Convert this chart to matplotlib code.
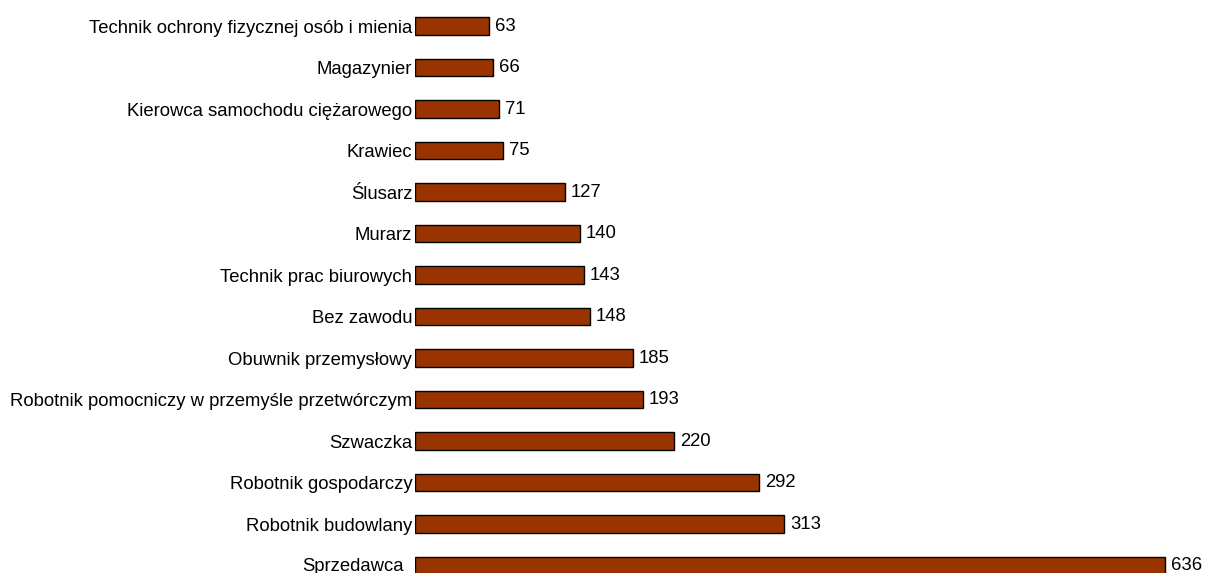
import matplotlib.pyplot as plt
import matplotlib.transforms as mtransforms
import numpy as np

plt.rcParams['font.family'] = ['Liberation Sans', 'DejaVu Sans']

categories = [
    "Technik ochrony fizycznej osób i mienia",
    "Magazynier",
    "Kierowca samochodu ciężarowego",
    "Krawiec",
    "Ślusarz",
    "Murarz",
    "Technik prac biurowych",
    "Bez zawodu",
    "Obuwnik przemysłowy",
    "Robotnik pomocniczy w przemyśle przetwórczym",
    "Szwaczka",
    "Robotnik gospodarczy",
    "Robotnik budowlany",
    "Sprzedawca",
]
values = [63, 66, 71, 75, 127, 140, 143, 148, 185, 193, 220, 292, 313, 636]

fig = plt.figure(figsize=(12.08, 5.73), dpi=100)
# bars start at 415 px, ~1.18 px per unit
ax = fig.add_axes([415 / 1208, 0, 790 / 1208, 1])
pos = np.arange(len(categories))
ax.barh(pos, values, height=0.43, color='#993300', edgecolor='black', linewidth=1)

for p, v in zip(pos, values):
    ax.text(v + 5, p, str(v), va='center', ha='left', fontsize=13.3)

ax.set_xlim(0, 670)
ax.set_ylim(13.18, -0.627)
ax.set_yticks(pos)
ax.set_yticklabels(categories, fontsize=13.3)
ax.tick_params(axis='y', length=0, pad=2)
ax.set_xticks([])
for s in ax.spines.values():
    s.set_visible(False)

# last label sits a little further left and higher, as in the source
last = ax.get_yticklabels()[-1]
last.set_transform(last.get_transform() +
                   mtransforms.ScaledTranslation(-9 / 100, 1.5 / 100, fig.dpi_scale_trans))

fig.savefig('out.png', dpi=100)
